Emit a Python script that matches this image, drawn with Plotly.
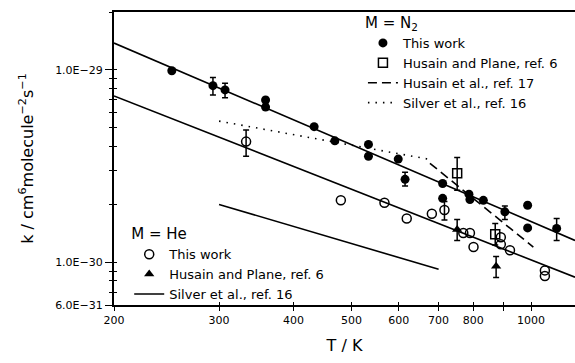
import plotly.graph_objects as go
import math

# ---------------- data ----------------
# M = N2, this work (filled circles)
n2_T = [250, 293, 307, 359, 359, 433, 469, 534, 534, 599, 615, 711, 711, 787, 790, 832, 904, 987, 987, 1104]
n2_k = [9.9e-30, 8.28e-30, 7.87e-30, 6.98e-30, 6.41e-30, 5.07e-30, 4.28e-30, 4.10e-30, 3.56e-30,
        3.44e-30, 2.70e-30, 2.57e-30, 2.15e-30, 2.26e-30, 2.12e-30, 2.10e-30, 1.83e-30, 1.98e-30,
        1.51e-30, 1.50e-30]
n2_err_plus = [0, 0.84e-30, 0.66e-30, 0, 0, 0, 0, 0, 0, 0, 0.24e-30, 0, 0, 0, 0, 0, 0.13e-30, 0, 0, 0.19e-30]
n2_err_minus = [0, 0.87e-30, 0.70e-30, 0, 0, 0, 0, 0, 0, 0, 0.21e-30, 0, 0, 0, 0, 0, 0.16e-30, 0, 0, 0.20e-30]

# M = N2, Husain and Plane (open squares)
n2_hp_T = [752, 871]
n2_hp_k = [2.90e-30, 1.40e-30]
n2_hp_err_plus = [0.61e-30, 0.19e-30]
n2_hp_err_minus = [0.53e-30, 0.17e-30]

# M = He, this work (open circles)
he_T = [333, 480, 568, 619, 682, 716, 770, 790, 801, 890, 890, 922, 1055, 1055]
he_k = [4.24e-30, 2.10e-30, 2.04e-30, 1.69e-30, 1.79e-30, 1.87e-30, 1.42e-30, 1.42e-30,
        1.20e-30, 1.35e-30, 1.24e-30, 1.155e-30, 9.08e-31, 8.49e-31]
he_err_plus = [0.63e-30, 0, 0, 0, 0, 0.20e-30, 0, 0, 0, 0, 0, 0, 0, 0]
he_err_minus = [0.68e-30, 0, 0, 0, 0, 0.21e-30, 0, 0, 0, 0, 0, 0, 0, 0]

# M = He, Husain and Plane (filled triangles)
he_hp_T = [752, 874]
he_hp_k = [1.48e-30, 9.53e-31]
he_hp_err_plus = [0.19e-30, 0.12e-30]
he_hp_err_minus = [0.18e-30, 0.12e-30]

# lines
n2_fit_T = [200, 1185]
n2_fit_k = [1.38e-29, 1.30e-30]
he_fit_T = [200, 1185]
he_fit_k = [7.33e-30, 8.37e-31]
silver_he_T = [300, 700]
silver_he_k = [2.0e-30, 9.2e-31]
silver_n2_T = [300, 672]
silver_n2_k = [5.42e-30, 3.44e-30]
husain_n2_T = [677, 1009]
husain_n2_k = [3.27e-30, 1.20e-30]

x_tickvals = [200, 300, 400, 500, 600, 700, 800, 900, 1000]
x_ticktext = ["200", "300", "400", "500", "600", "700", "800", "", "1000"]
y_major_vals = [6e-31, 1e-30, 1e-29]
y_major_text = ["6.0E\u221231", "1.0E\u221230", "1.0E\u221229"]
y_minor_vals = [7e-31, 8e-31, 9e-31, 2e-30, 3e-30, 4e-30, 5e-30, 6e-30, 7e-30, 8e-30, 9e-30, 2e-29]

XR = [math.log10(200), math.log10(1185)]
YR = [math.log10(6e-31), math.log10(2e-29)]
FONT = "DejaVu Sans"

fig = go.Figure()


def add_points(T, k, ep, em, marker, name, legend):
    idx_e = [i for i in range(len(T)) if ep[i] > 0 or em[i] > 0]
    idx_n = [i for i in range(len(T)) if i not in idx_e]
    shown = False
    if idx_n:
        fig.add_trace(go.Scatter(
            x=[T[i] for i in idx_n], y=[k[i] for i in idx_n], mode="markers",
            marker=marker, name=name, legend=legend, legendgroup=name, showlegend=True))
        shown = True
    if idx_e:
        fig.add_trace(go.Scatter(
            x=[T[i] for i in idx_e], y=[k[i] for i in idx_e], mode="markers",
            marker=marker, name=name, legend=legend, legendgroup=name, showlegend=not shown,
            error_y=dict(type="data", symmetric=False,
                         array=[ep[i] for i in idx_e], arrayminus=[em[i] for i in idx_e],
                         color="black", thickness=1.5, width=3)))


# fit lines (not in legend)
fig.add_trace(go.Scatter(x=n2_fit_T, y=n2_fit_k, mode="lines",
                         line=dict(color="black", width=1.6), showlegend=False))
fig.add_trace(go.Scatter(x=he_fit_T, y=he_fit_k, mode="lines",
                         line=dict(color="black", width=1.6), showlegend=False))

# N2 legend group
add_points(n2_T, n2_k, n2_err_plus, n2_err_minus,
           dict(symbol="circle", size=9, color="black"), "This work", "legend")
add_points(n2_hp_T, n2_hp_k, n2_hp_err_plus, n2_hp_err_minus,
           dict(symbol="square-open", size=9, color="black", line=dict(width=1.5)),
           "Husain and Plane, ref. 6", "legend")
fig.add_trace(go.Scatter(x=husain_n2_T, y=husain_n2_k, mode="lines",
                         line=dict(color="black", width=1.6, dash="9px,5px"),
                         name="Husain et al., ref. 17", legend="legend"))
fig.add_trace(go.Scatter(x=silver_n2_T, y=silver_n2_k, mode="lines",
                         line=dict(color="black", width=1.6, dash="1.5px,6px"),
                         name="Silver et al., ref. 16", legend="legend"))

# He legend group
add_points(he_T, he_k, he_err_plus, he_err_minus,
           dict(symbol="circle-open", size=9, color="black", line=dict(width=1.5)),
           "This work ", "legend2")
add_points(he_hp_T, he_hp_k, he_hp_err_plus, he_hp_err_minus,
           dict(symbol="triangle-up", size=9, color="black"),
           "Husain and Plane, ref. 6 ", "legend2")
fig.add_trace(go.Scatter(x=silver_he_T, y=silver_he_k, mode="lines",
                         line=dict(color="black", width=1.6),
                         name="Silver et al., ref. 16 ", legend="legend2"))

# invisible trace for overlay axes (inside ticks)
fig.add_trace(go.Scatter(x=[300], y=[1e-30], xaxis="x2", yaxis="y2", mode="markers",
                         marker=dict(opacity=0), showlegend=False, hoverinfo="skip"))

fig.update_layout(
    width=575, height=363,
    margin=dict(l=114, r=0, t=12, b=58),
    paper_bgcolor="white", plot_bgcolor="white",
    font=dict(family=FONT, color="black", size=11),
    showlegend=True,
    xaxis=dict(type="log", range=XR, tickvals=x_tickvals, ticktext=x_ticktext,
               ticks="outside", ticklen=4, tickwidth=1, tickcolor="black",
               showline=True, linecolor="black", linewidth=2, mirror=True,
               showgrid=False, zeroline=False,
               tickfont=dict(size=11, family=FONT),
               title=dict(text="T / K", font=dict(size=16, family=FONT), standoff=14)),
    yaxis=dict(type="log", range=YR, tickvals=y_major_vals, ticktext=y_major_text,
               ticks="outside", ticklen=7, tickwidth=1, tickcolor="black",
               minor=dict(tickvals=y_minor_vals, ticks="outside", ticklen=3, tickcolor="black", tickwidth=1),
               showline=True, linecolor="black", linewidth=2,
               showgrid=False, zeroline=False,
               tickfont=dict(size=11, family=FONT),
               title=dict(text="k / cm<sup>6</sup>molecule<sup>\u22122</sup>s<sup>\u22121</sup>",
                          font=dict(size=16, family=FONT), standoff=18)),
    xaxis2=dict(type="log", range=XR, overlaying="x", anchor="y2",
                tickvals=x_tickvals, ticks="inside", ticklen=3, tickcolor="black",
                showticklabels=False, showgrid=False, zeroline=False, showline=False),
    yaxis2=dict(type="log", range=YR, overlaying="y", anchor="x2", side="left",
                tickvals=y_major_vals + y_minor_vals, ticks="inside", ticklen=3, tickcolor="black",
                showticklabels=False, showgrid=False, zeroline=False, showline=False),
    legend=dict(title=dict(text="M = N<sub>2</sub>", font=dict(size=15, family=FONT)),
                x=0.54, y=1.012, xanchor="left", yanchor="top",
                bgcolor="rgba(0,0,0,0)", font=dict(size=13, family=FONT),
                itemwidth=30, tracegroupgap=0),
    legend2=dict(title=dict(text="M = He", font=dict(size=15, family=FONT)),
                 x=0.033, y=0.291, xanchor="left", yanchor="top",
                 bgcolor="rgba(0,0,0,0)", font=dict(size=13, family=FONT),
                 itemwidth=30, tracegroupgap=0),
)

fig.write_html("out.html")
